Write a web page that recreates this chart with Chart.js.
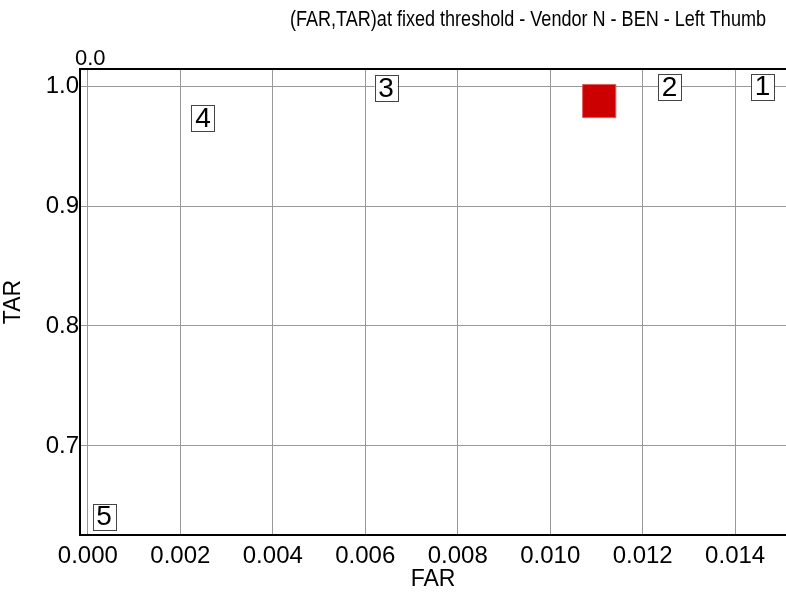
<!DOCTYPE html>
<html>
<head>
<meta charset="utf-8">
<script src="https://cdn.jsdelivr.net/npm/chart.js@4"></script>
<style>
  html, body { margin: 0; padding: 0; overflow: hidden; background: #fff; }
  #wrap { width: 786px; height: 595px; }
</style>
</head>
<body>
<div id="wrap"><canvas id="far"></canvas></div>
<script>
// data
var pointLabels = ['1', '2', '3', '4', '5'];
var pointFar = [0.01459, 0.01258, 0.00645, 0.00249, 0.00035];
var pointTar = [0.9995, 0.9990, 0.9985, 0.9730, 0.6410];
var fixedFar = [0.01106];
var fixedTar = [0.9875];
var xTicks = [0.000, 0.002, 0.004, 0.006, 0.008, 0.010, 0.012, 0.014];
var yTicks = [0.7, 0.8, 0.9, 1.0];

var font = 'Liberation Sans, Arial, sans-serif';
var title = '(FAR,TAR)at fixed threshold - Vendor N - BEN - Left Thumb';

// boxed number labels, frame lines and title text
var decorations = {
  id: 'decorations',
  afterDatasetsDraw: function(chart) {
    var ctx = chart.ctx, a = chart.chartArea;
    var xs = chart.scales.x, ys = chart.scales.y;
    ctx.save();
    // frame: left, top, bottom
    ctx.strokeStyle = '#000';
    ctx.lineWidth = 2;
    ctx.beginPath();
    ctx.moveTo(chart.width, a.top);
    ctx.lineTo(a.left, a.top);
    ctx.lineTo(a.left, a.bottom);
    ctx.lineTo(chart.width, a.bottom);
    ctx.stroke();

    // boxed labels
    ctx.font = '28px ' + font;
    ctx.textAlign = 'center';
    ctx.textBaseline = 'middle';
    pointLabels.forEach(function(lbl, i) {
      var px = xs.getPixelForValue(pointFar[i]);
      var py = ys.getPixelForValue(pointTar[i]);
      var w = 23, h = 26;
      ctx.fillStyle = '#fff';
      ctx.fillRect(px - w / 2, py - h / 2, w, h);
      ctx.strokeStyle = '#444';
      ctx.lineWidth = 1;
      ctx.strokeRect(Math.round(px - w / 2) + 0.5, Math.round(py - h / 2) + 0.5, w, h);
      ctx.fillStyle = '#000';
      ctx.fillText(lbl, px, py + 1);
    });

    // title, squeezed to the narrow width of the original
    ctx.fillStyle = '#000';
    ctx.font = '22px ' + font;
    ctx.textBaseline = 'middle';
    ctx.textAlign = 'left';
    var tw = ctx.measureText(title).width;
    ctx.save();
    ctx.translate(290, 20);
    ctx.scale(476 / tw, 1);
    ctx.fillText(title, 0, 0);
    ctx.restore();

    ctx.font = '22px ' + font;
    ctx.fillText('0.0', 75, 59);
    ctx.restore();
  }
};

new Chart(document.getElementById('far'), {
  type: 'scatter',
  data: {
    datasets: [{
      data: fixedFar.map(function(v, i) { return { x: v, y: fixedTar[i] }; }),
      pointStyle: 'rect',
      pointRadius: 23.5,
      pointHoverRadius: 23.5,
      backgroundColor: '#cc0000',
      borderColor: '#e06060',
      borderWidth: 1
    }]
  },
  options: {
    responsive: true,
    maintainAspectRatio: false,
    animation: false,
    layout: { autoPadding: false, padding: { top: 69, right: 0, left: 0, bottom: 0 } },
    plugins: {
      legend: { display: false },
      tooltip: { enabled: false }
    },
    scales: {
      x: {
        type: 'linear',
        min: -0.00017,
        max: 0.0151,
        afterBuildTicks: function(axis) {
          axis.ticks = xTicks.map(function(v) { return { value: v }; });
        },
        afterFit: function(axis) {
          axis.height = 60;
          axis.paddingLeft = 0;
          axis.paddingRight = 0;
        },
        grid: { color: '#999', lineWidth: 1, drawTicks: false },
        border: { display: false },
        ticks: {
          color: '#000',
          font: { family: font, size: 24 },
          padding: 7,
          maxRotation: 0,
          callback: function(v) { return v.toFixed(3); }
        },
        title: {
          display: true,
          text: 'FAR',
          color: '#000',
          font: { family: font, size: 23 },
          padding: { top: 0, bottom: 2 }
        }
      },
      y: {
        type: 'linear',
        min: 0.6258,
        max: 1.0142,
        afterBuildTicks: function(axis) {
          axis.ticks = yTicks.map(function(v) { return { value: v }; });
        },
        afterFit: function(axis) { axis.width = 80; },
        grid: { color: '#999', lineWidth: 1, drawTicks: false },
        border: { display: false },
        ticks: {
          color: '#000',
          font: { family: font, size: 24 },
          padding: 1,
          callback: function(v) { return v.toFixed(1); }
        },
        title: {
          display: true,
          text: 'TAR',
          color: '#000',
          font: { family: font, size: 23 },
          padding: { top: 0, bottom: 8 }
        }
      }
    }
  },
  plugins: [decorations]
});
</script>
</body>
</html>
